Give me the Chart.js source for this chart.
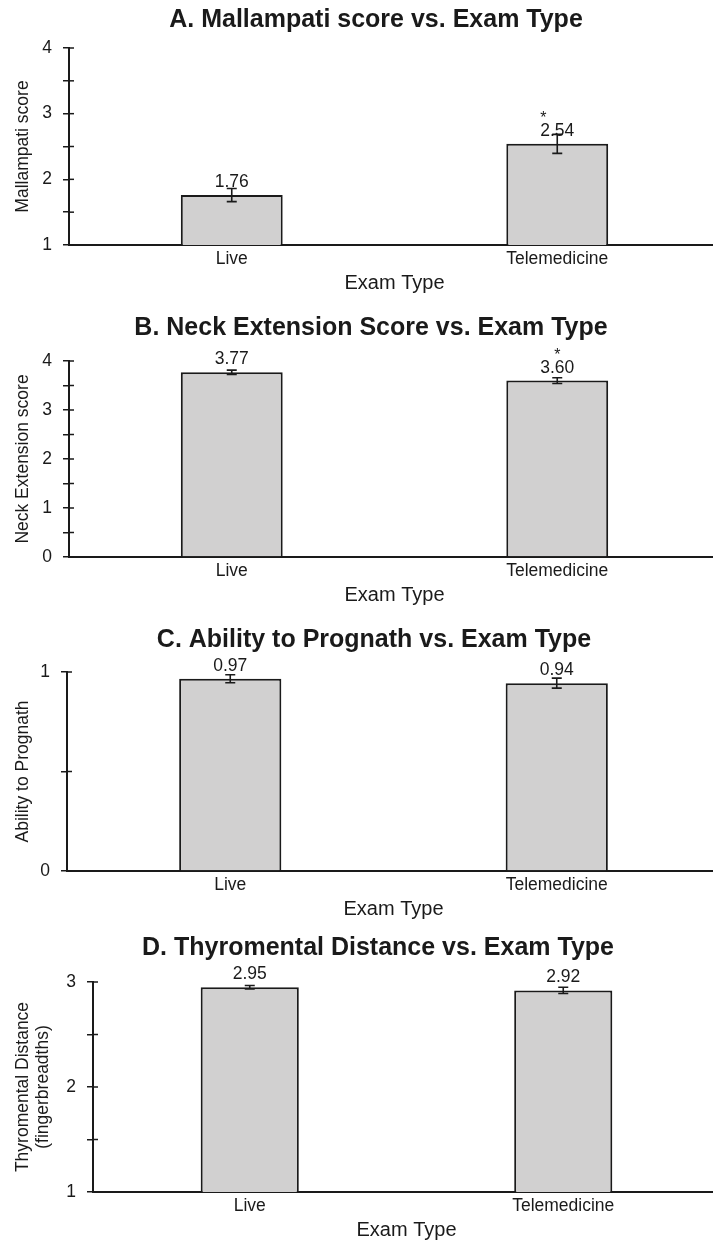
<!DOCTYPE html>
<html>
<head>
<meta charset="utf-8">
<script src="https://cdn.jsdelivr.net/npm/chart.js@4.4.1/dist/chart.umd.min.js"></script>
<style>
  html, body { margin: 0; padding: 0; background: #fff; width: 713px; height: 1240px; overflow: hidden; }
  .panel { position: absolute; left: 0; width: 720px; }
</style>
</head>
<body>
<div class="panel" style="top:0px;height:295px"><canvas id="chartA"></canvas></div>
<div class="panel" style="top:300px;height:307px"><canvas id="chartB"></canvas></div>
<div class="panel" style="top:610px;height:311px"><canvas id="chartC"></canvas></div>
<div class="panel" style="top:920px;height:322px"><canvas id="chartD"></canvas></div>
<script>
// Data
const examTypes = ['Live', 'Telemedicine'];

const mallampatiMeans = [1.76, 2.54];
const mallampatiErrors = [0.10, 0.145];
const mallampatiStars = [false, true];
const mallampatiRange = [1, 4];

const neckMeans = [3.77, 3.60];
const neckErrors = [0.044, 0.058];
const neckStars = [false, true];
const neckRange = [0, 4];

const prognathMeans = [0.966, 0.944];
const prognathErrors = [0.02, 0.025];
const prognathStars = [false, false];
const prognathRange = [0, 1];

const thyroMeans = [2.95, 2.92];
const thyroErrors = [0.017, 0.03];
const thyroStars = [false, false];
const thyroRange = [1, 3];

const FONT = '"Liberation Sans", Arial, Helvetica, sans-serif';
const INK = '#1a1a1a';

Chart.defaults.font.family = FONT;
Chart.defaults.color = INK;

// error bars, value labels, significance stars, inner halves of y ticks, panel title
const annotatePlugin = {
    id: 'annotate',
    afterDatasetsDraw(chart, args, opts) {
        const ctx = chart.ctx;
        const y = chart.scales.y;
        const meta = chart.getDatasetMeta(0);
        ctx.save();
        ctx.strokeStyle = INK;
        ctx.lineWidth = 1.6;
        meta.data.forEach((bar, i) => {
            const v = opts.means[i], e = opts.errors[i];
            const yTop = y.getPixelForValue(v + e);
            const yBot = y.getPixelForValue(v - e);
            ctx.beginPath();
            ctx.moveTo(bar.x, yTop); ctx.lineTo(bar.x, yBot);
            ctx.moveTo(bar.x - 5, yTop); ctx.lineTo(bar.x + 5, yTop);
            ctx.moveTo(bar.x - 5, yBot); ctx.lineTo(bar.x + 5, yBot);
            ctx.stroke();

            ctx.fillStyle = INK;
            ctx.textAlign = 'center';
            ctx.textBaseline = 'alphabetic';
            ctx.font = '17.5px ' + FONT;
            const ly = bar.y - 8;
            ctx.fillText(v.toFixed(2), bar.x, ly);
            if (opts.stars[i]) {
                ctx.font = '16px ' + FONT;
                ctx.fillText('*', bar.x + opts.starShift, ly - 13);
            }
        });

        // tick marks cross the axis
        ctx.lineWidth = 1.5;
        const ax = chart.chartArea.left;
        y.ticks.forEach(t => {
            const py = y.getPixelForValue(t.value);
            ctx.beginPath();
            ctx.moveTo(ax, py); ctx.lineTo(ax + 5, py);
            ctx.stroke();
        });

        ctx.fillStyle = INK;
        ctx.font = 'bold 25px ' + FONT;
        ctx.textAlign = 'center';
        ctx.textBaseline = 'middle';
        ctx.fillText(opts.title, opts.titleX, opts.titleY);
        ctx.restore();
    }
};

function makePanel(id, cfg) {
    new Chart(document.getElementById(id), {
        type: 'bar',
        data: {
            labels: examTypes,
            datasets: [{
                data: cfg.means,
                backgroundColor: '#d1d0d0',
                borderColor: INK,
                borderWidth: 2,
                barPercentage: 0.313,
                categoryPercentage: 1
            }]
        },
        options: {
            responsive: true,
            maintainAspectRatio: false,
            animation: false,
            layout: { padding: { top: cfg.plotTop, right: 0, bottom: 0, left: 0 } },
            plugins: {
                legend: { display: false },
                tooltip: { enabled: false },
                title: { display: false },
                annotate: {
                    means: cfg.means,
                    errors: cfg.errors,
                    stars: cfg.stars,
                    starShift: cfg.starShift,
                    title: cfg.title,
                    titleX: cfg.titleX,
                    titleY: cfg.titleY
                }
            },
            scales: {
                x: {
                    grid: { display: false, drawTicks: false },
                    border: { display: true, color: INK, width: 2 },
                    ticks: { padding: 4, font: { size: 17.5 }, color: INK },
                    title: { display: true, text: 'Exam Type', font: { size: 20 }, color: INK, padding: { top: 0, bottom: 0 } },
                    afterFit(scale) { scale.height = 50; }
                },
                y: {
                    min: cfg.range[0],
                    max: cfg.range[1],
                    grid: { drawOnChartArea: false, drawTicks: true, tickLength: 6, color: INK, lineWidth: 1.5 },
                    border: { display: true, color: INK, width: 2 },
                    ticks: {
                        stepSize: 0.5,
                        padding: 11,
                        font: { size: 17.5 },
                        color: INK,
                        autoSkip: false,
                        callback: v => Number.isInteger(v) ? String(v) : ''
                    },
                    title: {
                        display: true,
                        text: cfg.yTitle,
                        font: { size: 17.5, lineHeight: cfg.yTitleLine },
                        color: INK,
                        padding: { top: cfg.yTitlePad, bottom: 0 }
                    },
                    afterFit(scale) { scale.width = cfg.axisX; }
                }
            }
        },
        plugins: [annotatePlugin]
    });
}

makePanel('chartA', {
    means: mallampatiMeans, errors: mallampatiErrors, stars: mallampatiStars, range: mallampatiRange,
    starShift: -14, title: 'A. Mallampati score vs. Exam Type', titleX: 376, titleY: 20,
    plotTop: 48, axisX: 69, yTitle: 'Mallampati score', yTitleLine: 1.2, yTitlePad: 12.5
});
makePanel('chartB', {
    means: neckMeans, errors: neckErrors, stars: neckStars, range: neckRange,
    starShift: 0, title: 'B. Neck Extension Score vs. Exam Type', titleX: 371, titleY: 28,
    plotTop: 61, axisX: 69, yTitle: 'Neck Extension score', yTitleLine: 1.2, yTitlePad: 12.5
});
makePanel('chartC', {
    means: prognathMeans, errors: prognathErrors, stars: prognathStars, range: prognathRange,
    starShift: 0, title: 'C. Ability to Prognath vs. Exam Type', titleX: 374, titleY: 30,
    plotTop: 62, axisX: 67, yTitle: 'Ability to Prognath', yTitleLine: 1.2, yTitlePad: 12.5
});
makePanel('chartD', {
    means: thyroMeans, errors: thyroErrors, stars: thyroStars, range: thyroRange,
    starShift: 0, title: 'D. Thyromental Distance vs. Exam Type', titleX: 378, titleY: 28,
    plotTop: 62, axisX: 93, yTitle: ['Thyromental Distance', '(fingerbreadths)'], yTitleLine: 1.15, yTitlePad: 13
});
</script>
</body>
</html>
